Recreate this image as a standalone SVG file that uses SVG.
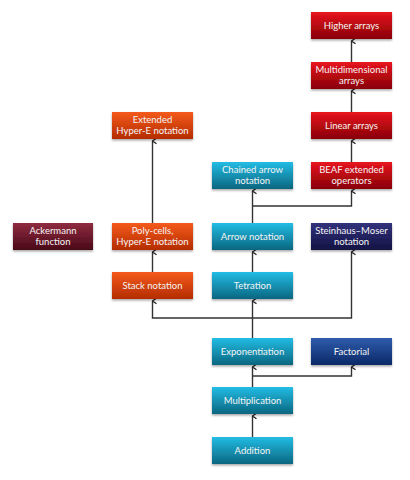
<svg xmlns="http://www.w3.org/2000/svg" width="410" height="480" viewBox="0 0 410 480">
<defs>
<linearGradient id="gRed" x1="0" y1="0" x2="0" y2="1"><stop offset="0" stop-color="#e8141e"/><stop offset="1" stop-color="#880006"/></linearGradient>
<linearGradient id="gOrange" x1="0" y1="0" x2="0" y2="1"><stop offset="0" stop-color="#f45a1c"/><stop offset="1" stop-color="#b42c00"/></linearGradient>
<linearGradient id="gTeal" x1="0" y1="0" x2="0" y2="1"><stop offset="0" stop-color="#22bce4"/><stop offset="1" stop-color="#0a6680"/></linearGradient>
<linearGradient id="gMaroon" x1="0" y1="0" x2="0" y2="1"><stop offset="0" stop-color="#902c40"/><stop offset="1" stop-color="#480818"/></linearGradient>
<linearGradient id="gNavy" x1="0" y1="0" x2="0" y2="1"><stop offset="0" stop-color="#32327c"/><stop offset="1" stop-color="#121244"/></linearGradient>
<linearGradient id="gBlue" x1="0" y1="0" x2="0" y2="1"><stop offset="0" stop-color="#305cac"/><stop offset="1" stop-color="#0a2866"/></linearGradient>
<filter id="sh" x="-10%" y="-20%" width="120%" height="150%"><feDropShadow dx="0" dy="1.5" stdDeviation="1" flood-color="#000" flood-opacity="0.35"/></filter>
<marker id="arr" viewBox="0 0 10 10" refX="5" refY="1" markerWidth="8" markerHeight="8" markerUnits="userSpaceOnUse" orient="auto-start-reverse">
<path d="M1.5 6 L5 1 L8.5 6" fill="none" stroke="#222" stroke-width="1.5"/>
</marker>
</defs>
<style>
rect.b{filter:url(#sh);}
text{font-family:Lato,"Liberation Sans",sans-serif;font-size:9.5px;fill:#f4f4f4;text-anchor:middle;font-weight:normal;}
.c path{fill:none;stroke:#333;stroke-width:1.4;}
</style>
<rect width="410" height="480" fill="#fff"/>
<g class="c" id="connectors">
<path d="M252.5 437 V416" marker-end="url(#arr)"/>
<path d="M252.5 387 V367" marker-end="url(#arr)"/>
<path d="M252.5 376 H351.5 V367" marker-end="url(#arr)"/>
<path d="M252.5 338 V301" marker-end="url(#arr)"/>
<path d="M252.5 318 H152.5 V301" marker-end="url(#arr)"/>
<path d="M252.5 318 H351.5 V252" marker-end="url(#arr)"/>
<path d="M252.5 272 V252" marker-end="url(#arr)"/>
<path d="M252.5 223 V191" marker-end="url(#arr)"/>
<path d="M252.5 206 H351.5 V191" marker-end="url(#arr)"/>
<path d="M351.5 162 V141" marker-end="url(#arr)"/>
<path d="M351.5 112 V91" marker-end="url(#arr)"/>
<path d="M351.5 62 V41" marker-end="url(#arr)"/>
<path d="M152.5 272 V252" marker-end="url(#arr)"/>
<path d="M152.5 223 V141" marker-end="url(#arr)"/>
</g>
<g id="higher"><rect class="b" x="311" y="12" width="81" height="27" fill="url(#gRed)"/><text x="351.5" y="29">Higher arrays</text></g>
<g id="multidim"><rect class="b" x="311" y="62" width="81" height="27" fill="url(#gRed)"/><text x="351.5" y="73">Multidimensional</text><text x="351.5" y="83.5">arrays</text></g>
<g id="linear"><rect class="b" x="311" y="112" width="81" height="27" fill="url(#gRed)"/><text x="351.5" y="129">Linear arrays</text></g>
<g id="beaf"><rect class="b" x="311" y="162" width="81" height="27" fill="url(#gRed)"/><text x="351.5" y="173">BEAF extended</text><text x="351.5" y="183.5">operators</text></g>
<g id="chained"><rect class="b" x="212" y="162" width="81" height="27" fill="url(#gTeal)"/><text x="252.5" y="173">Chained arrow</text><text x="252.5" y="183.5">notation</text></g>
<g id="extended"><rect class="b" x="112" y="112" width="81" height="27" fill="url(#gOrange)"/><text x="152.5" y="123">Extended</text><text x="152.5" y="133.5">Hyper-E notation</text></g>
<g id="ackermann"><rect class="b" x="13" y="223" width="80" height="27" fill="url(#gMaroon)"/><text x="53" y="234">Ackermann</text><text x="53" y="244.5">function</text></g>
<g id="polycells"><rect class="b" x="112" y="223" width="81" height="27" fill="url(#gOrange)"/><text x="152.5" y="234">Poly-cells,</text><text x="152.5" y="244.5">Hyper-E notation</text></g>
<g id="arrow"><rect class="b" x="212" y="223" width="81" height="27" fill="url(#gTeal)"/><text x="252.5" y="240">Arrow notation</text></g>
<g id="steinhaus"><rect class="b" x="311" y="223" width="81" height="27" fill="url(#gNavy)"/><text x="351.5" y="234">Steinhaus–Moser</text><text x="351.5" y="244.5">notation</text></g>
<g id="stack"><rect class="b" x="112" y="272" width="81" height="27" fill="url(#gOrange)"/><text x="152.5" y="289">Stack notation</text></g>
<g id="tetration"><rect class="b" x="212" y="272" width="81" height="27" fill="url(#gTeal)"/><text x="252.5" y="289">Tetration</text></g>
<g id="exponentiation"><rect class="b" x="212" y="338" width="81" height="27" fill="url(#gTeal)"/><text x="252.5" y="355">Exponentiation</text></g>
<g id="factorial"><rect class="b" x="311" y="338" width="81" height="27" fill="url(#gBlue)"/><text x="351.5" y="355">Factorial</text></g>
<g id="multiplication"><rect class="b" x="212" y="387" width="81" height="27" fill="url(#gTeal)"/><text x="252.5" y="404">Multiplication</text></g>
<g id="addition"><rect class="b" x="212" y="437" width="81" height="27" fill="url(#gTeal)"/><text x="252.5" y="454">Addition</text></g>
</svg>
